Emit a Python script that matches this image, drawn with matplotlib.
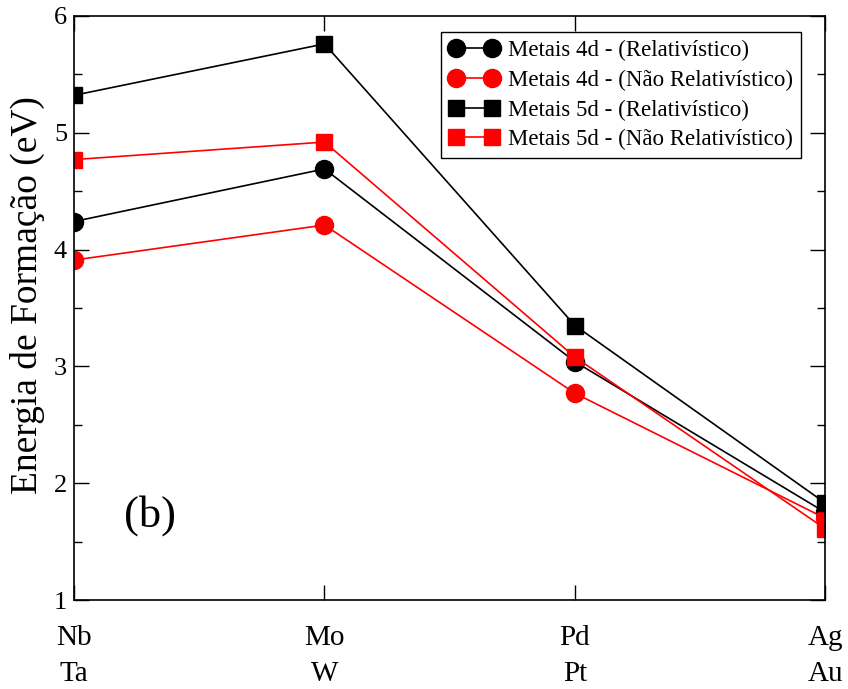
import numpy as np
import matplotlib.pyplot as plt
from matplotlib.ticker import MultipleLocator

plt.rcParams['font.family'] = ['Liberation Serif', 'DejaVu Serif']

# metal pairs (4d over 5d) on the x axis
labels = ["Nb\nTa", "Mo\nW", "Pd\nPt", "Ag\nAu"]
x = np.arange(len(labels))

# formation energies (eV)
e4d_rel = [4.24, 4.69, 3.04, 1.75]
e4d_nrel = [3.91, 4.21, 2.77, 1.70]
e5d_rel = [5.32, 5.76, 3.35, 1.83]
e5d_nrel = [4.77, 4.92, 3.08, 1.61]


def main():
    fig = plt.figure(figsize=(8.48, 6.89), dpi=100)
    ax = fig.add_axes([0.0873, 0.129, 0.886, 0.848])

    ax.plot(x, e4d_rel, '-o', color='black', lw=1.2, ms=13, label='Metais 4d - (Relativístico)')
    ax.plot(x, e4d_nrel, '-o', color='red', lw=1.2, ms=13, label='Metais 4d - (Não Relativístico)')
    ax.plot(x, e5d_rel, '-s', color='black', lw=1.2, ms=11.5, label='Metais 5d - (Relativístico)')
    ax.plot(x, e5d_nrel, '-s', color='red', lw=1.2, ms=11.5, label='Metais 5d - (Não Relativístico)')

    ax.set_xlim(0, 3)
    ax.set_ylim(1, 6)
    ax.set_xticks(x)
    ax.set_xticklabels(labels, fontsize=21, linespacing=1.5)
    ax.yaxis.set_major_locator(MultipleLocator(1))
    ax.yaxis.set_minor_locator(MultipleLocator(0.5))
    ax.tick_params(axis='both', which='major', direction='in', length=11, width=1,
                   top=True, right=True)
    ax.tick_params(axis='y', which='minor', direction='in', length=6, width=1, right=True)
    ax.tick_params(axis='x', which='major', pad=18)
    ax.tick_params(axis='y', which='major', labelsize=19, pad=5)
    for sp in ax.spines.values():
        sp.set_linewidth(1.2)

    ax.set_ylabel('Energia de Formação (eV)', fontsize=27)
    ax.yaxis.set_label_coords(-0.038, 0.522)
    ax.text(0.2, 1.63, '(b)', fontsize=32)

    leg = ax.legend(loc='upper right', bbox_to_anchor=(0.968, 0.972), numpoints=2,
                    fontsize=16.5, fancybox=False, edgecolor='black', framealpha=1,
                    handlelength=2.2, handletextpad=0.4, borderpad=0.35, labelspacing=0.37,
                    borderaxespad=0)
    leg.get_frame().set_linewidth(1)

    plt.savefig("out.png", dpi=100)
    plt.close()


if __name__ == "__main__":
    main()
